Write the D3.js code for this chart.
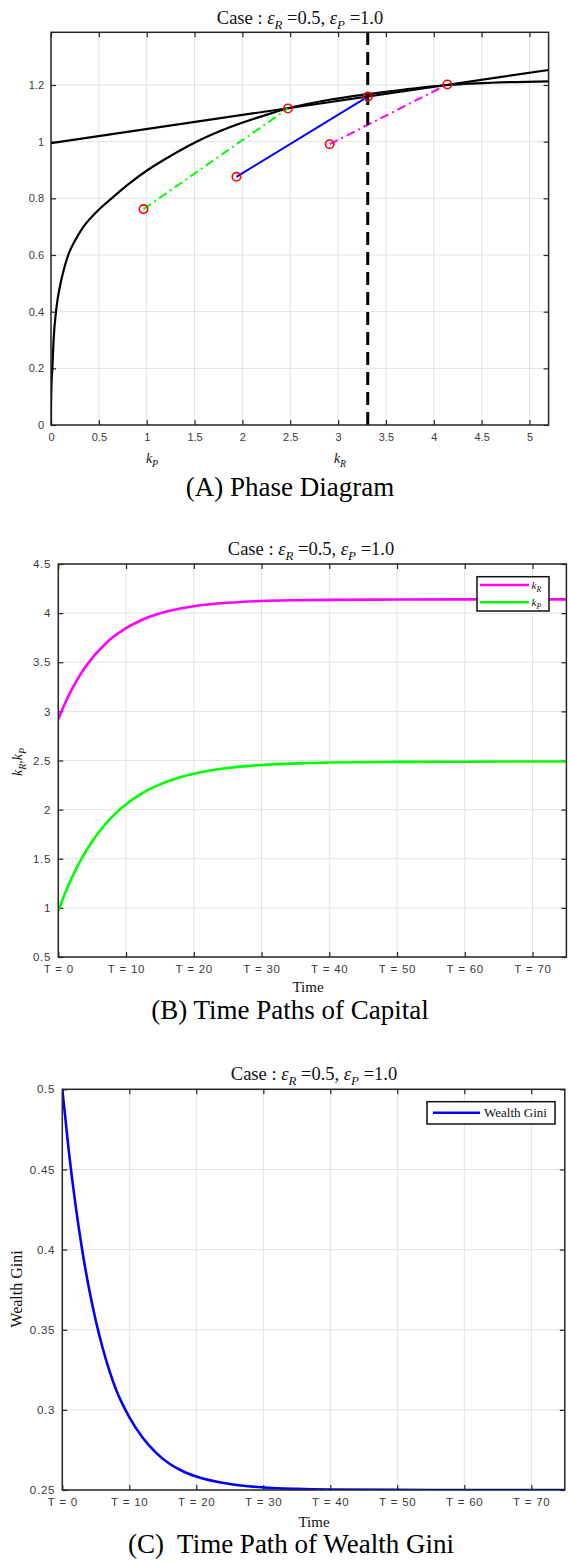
<!DOCTYPE html>
<html><head><meta charset="utf-8">
<script src="https://cdn.jsdelivr.net/npm/d3@7"></script>
<style>
body{margin:0;background:#fff}
svg{display:block}
.tick text{font-family:"Liberation Sans",Arial,sans-serif;fill:#3a3a3a}
</style>
</head><body>
<svg id="c" width="568" height="1564"></svg>
<script>
// ---------------- DATA ----------------
// Panel A: phase diagram
const phaseCurveK = [0, 0.0005, 0.002, 0.006, 0.014, 0.027, 0.052, 0.072, 0.1, 0.135, 0.18, 0.25, 0.34, 0.47, 0.634, 0.81, 1.01, 1.25, 1.52, 1.86, 2.3, 2.47, 2.95, 3.5, 4.14, 4.6, 5.2];
const phaseCurveY = [0, 0.05, 0.1, 0.15, 0.2, 0.3, 0.4, 0.45, 0.5, 0.55, 0.6, 0.65, 0.7, 0.75, 0.8, 0.85, 0.9, 0.95, 1.0, 1.05, 1.1, 1.117, 1.15, 1.176, 1.2, 1.208, 1.213];
const phaseLineK = [0, 5.2];
const phaseLineY = [0.995, 1.253];
const greenPathK = [0.967, 2.476];
const greenPathY = [0.762, 1.117];
const bluePathK = [1.938, 3.311];
const bluePathY = [0.876, 1.159];
const magentaPathK = [2.912, 4.142];
const magentaPathY = [0.991, 1.202];
const kRstar = 3.31;
const phaseXTicks = [0, 0.5, 1, 1.5, 2, 2.5, 3, 3.5, 4, 4.5, 5];
const phaseYTicks = [0, 0.2, 0.4, 0.6, 0.8, 1, 1.2];

// Panels B and C: time paths
const timeT   = [0, 1, 2, 3, 4, 5, 6, 7, 8, 10, 12, 14, 16, 18, 20, 25, 30, 35, 40, 50, 60, 70, 75];
const kRpath  = [2.92, 3.082, 3.224, 3.346, 3.451, 3.542, 3.62, 3.691, 3.751, 3.847, 3.92, 3.975, 4.016, 4.047, 4.07, 4.105, 4.123, 4.131, 4.135, 4.138, 4.14, 4.14, 4.14];
const kPpath  = [0.97, 1.149, 1.306, 1.445, 1.568, 1.676, 1.772, 1.856, 1.931, 2.055, 2.151, 2.226, 2.284, 2.33, 2.365, 2.423, 2.454, 2.471, 2.48, 2.486, 2.488, 2.49, 2.49];
const giniPath = [0.5, 0.4604, 0.4271, 0.399, 0.3754, 0.3556, 0.3389, 0.3248, 0.3129, 0.2955, 0.2826, 0.2732, 0.2664, 0.2617, 0.2584, 0.2537, 0.2516, 0.2507, 0.2503, 0.2501, 0.25, 0.25, 0.25];
const timeTicks = [0, 10, 20, 30, 40, 50, 60, 70];
const timeTickLabels = ["T = 0", "T = 10", "T = 20", "T = 30", "T = 40", "T = 50", "T = 60", "T = 70"];
const capYTicks = [0.5, 1, 1.5, 2, 2.5, 3, 3.5, 4, 4.5];
const giniYTicks = [0.25, 0.3, 0.35, 0.4, 0.45, 0.5];

const titleParts = [{t:"Case : "},{t:"ε",i:1},{t:"R",i:1,sub:1},{t:" =0.5, "},{t:"ε",i:1},{t:"P",i:1,sub:1},{t:" =1.0"}];

// ---------------- HELPERS ----------------
const svg = d3.select("#c");
const SERIF = "'Liberation Serif','Times New Roman',serif";
const GRID = "#e3e3e3", AX = "#262626";

function mathText(g, x, y, size, parts, anchor, rotate) {
  const t = g.append("text").attr("x", x).attr("y", y)
    .attr("text-anchor", anchor || "middle")
    .style("font-family", SERIF).style("font-size", size + "px").attr("fill", "#111");
  if (rotate) t.attr("transform", `rotate(${rotate},${x},${y})`);
  let shifted = false;
  parts.forEach(p => {
    const s = t.append("tspan").text(p.t);
    if (p.i) s.style("font-style", "italic");
    if (p.sub) {
      s.style("font-size", (size * 0.7) + "px");
      if (!shifted) { s.attr("dy", size * 0.28); shifted = true; }
    } else if (shifted) { s.attr("dy", -size * 0.28); shifted = false; }
  });
  return t;
}

function frame(id, x, y, xTicks, yTicks, xFmt, yFmt, fs, ls) {
  const [x0, x1] = x.range(), [y0, y1] = y.range(); // y0 bottom, y1 top
  const g = svg.append("g");
  g.append("g").selectAll("line").data(xTicks).join("line")
    .attr("x1", d => x(d)).attr("x2", d => x(d)).attr("y1", y0).attr("y2", y1)
    .attr("stroke", GRID).attr("stroke-width", 1);
  g.append("g").selectAll("line").data(yTicks).join("line")
    .attr("y1", d => y(d)).attr("y2", d => y(d)).attr("x1", x0).attr("x2", x1)
    .attr("stroke", GRID).attr("stroke-width", 1);
  const axB = g.append("g").attr("transform", `translate(0,${y0})`)
    .call(d3.axisBottom(x).tickValues(xTicks).tickFormat(xFmt).tickSizeInner(-5).tickSizeOuter(0).tickPadding(8));
  const axT = g.append("g").attr("transform", `translate(0,${y1})`)
    .call(d3.axisTop(x).tickValues(xTicks).tickFormat("").tickSizeInner(-5).tickSizeOuter(0));
  const axL = g.append("g").attr("transform", `translate(${x0},0)`)
    .call(d3.axisLeft(y).tickValues(yTicks).tickFormat(yFmt).tickSizeInner(-5).tickSizeOuter(0).tickPadding(7));
  const axR = g.append("g").attr("transform", `translate(${x1},0)`)
    .call(d3.axisRight(y).tickValues(yTicks).tickFormat("").tickSizeInner(-5).tickSizeOuter(0));
  [axB, axT, axL, axR].forEach(a => {
    a.select(".domain").remove();
    a.selectAll(".tick line").attr("stroke", AX).attr("stroke-width", 1.2);
    a.selectAll(".tick text").style("font-size", fs + "px").style("letter-spacing", (ls||0) + "px");
  });
  const plot = svg.append("g");
  svg.append("defs").append("clipPath").attr("id", id).append("rect")
    .attr("x", x0).attr("y", y1).attr("width", x1 - x0).attr("height", y0 - y1);
  plot.attr("clip-path", `url(#${id})`);
  const top = svg.append("g");
  top.append("rect").attr("x", x0).attr("y", y1).attr("width", x1 - x0).attr("height", y0 - y1)
    .attr("fill", "none").attr("stroke", AX).attr("stroke-width", 1.5);
  return {plot, top, axB, axL};
}

// ---------------- PANEL A ----------------
{
  const x = d3.scaleLinear().domain([0, 5.2]).range([51, 548.6]);
  const y = d3.scaleLinear().domain([0, 1.386]).range([425, 32.3]);
  const f = frame("clipA", x, y, phaseXTicks, phaseYTicks, d3.format("~g"), d3.format("~g"), 11);
  const p = f.plot;
  const line = d3.line().x(d => x(d[0])).y(d => y(d[1]));
  p.append("path").datum(phaseCurveK.map((k, i) => [k, phaseCurveY[i]]))
    .attr("d", line.curve(d3.curveMonotoneX)).attr("fill", "none").attr("stroke", "#000").attr("stroke-width", 2.2);
  p.append("path").datum(phaseLineK.map((k, i) => [k, phaseLineY[i]]))
    .attr("d", d3.line().x(d => x(d[0])).y(d => y(d[1]))).attr("fill", "none").attr("stroke", "#000").attr("stroke-width", 2.2);
  const paths = [
    {k: greenPathK, v: greenPathY, c: "#00ff00", dash: "9,4,2,4"},
    {k: bluePathK, v: bluePathY, c: "#0000ff", dash: null},
    {k: magentaPathK, v: magentaPathY, c: "#ff00ff", dash: "9,4,2,4"}
  ];
  const sl = d3.line().x(d => x(d[0])).y(d => y(d[1]));
  paths.forEach(P => {
    const pa = p.append("path").datum(P.k.map((k, i) => [k, P.v[i]])).attr("d", sl)
      .attr("fill", "none").attr("stroke", P.c).attr("stroke-width", 2);
    if (P.dash) pa.attr("stroke-dasharray", P.dash);
  });
  p.append("line").attr("x1", x(kRstar)).attr("x2", x(kRstar)).attr("y1", y(0)).attr("y2", y(1.386))
    .attr("stroke", "#000").attr("stroke-width", 3).attr("stroke-dasharray", "13,7");
  paths.forEach(P => {
    P.k.forEach((k, i) => {
      p.append("circle").attr("cx", x(k)).attr("cy", y(P.v[i])).attr("r", 4.2)
        .attr("fill", "none").attr("stroke", "#ff0000").attr("stroke-width", 1.6);
    });
  });
  mathText(svg, 300, 24, 18.5, titleParts);
  mathText(svg, 152, 463, 14, [{t:"k",i:1},{t:"P",i:1,sub:1}]);
  mathText(svg, 340, 463, 14, [{t:"k",i:1},{t:"R",i:1,sub:1}]);
  svg.append("text").attr("x", 290).attr("y", 496).attr("text-anchor", "middle")
    .style("font-family", SERIF).style("font-size", "27px").text("(A) Phase Diagram");
}

// ---------------- PANEL B ----------------
{
  const x = d3.scaleLinear().domain([0, 75]).range([58.3, 566.4]);
  const y = d3.scaleLinear().domain([0.5, 4.5]).range([957, 564]);
  const f = frame("clipB", x, y, timeTicks, capYTicks, (d, i) => timeTickLabels[i], d3.format("~g"), 11.5, 0.8);
  const p = f.plot;
  const line = d3.line().x(d => x(d[0])).y(d => y(d[1])).curve(d3.curveMonotoneX);
  p.append("path").datum(timeT.map((t, i) => [t, kRpath[i]])).attr("d", line)
    .attr("fill", "none").attr("stroke", "#ff00ff").attr("stroke-width", 2.6);
  p.append("path").datum(timeT.map((t, i) => [t, kPpath[i]])).attr("d", line)
    .attr("fill", "none").attr("stroke", "#00ff00").attr("stroke-width", 2.6);
  const lg = f.top.append("g");
  lg.append("rect").attr("x", 477).attr("y", 576.7).attr("width", 72).attr("height", 34.3)
    .attr("fill", "#fff").attr("stroke", "#111").attr("stroke-width", 1.5);
  lg.append("line").attr("x1", 480).attr("x2", 529).attr("y1", 585).attr("y2", 585).attr("stroke", "#ff00ff").attr("stroke-width", 2.6);
  lg.append("line").attr("x1", 480).attr("x2", 529).attr("y1", 602.3).attr("y2", 602.3).attr("stroke", "#00ff00").attr("stroke-width", 2.6);
  mathText(lg, 531.5, 588.5, 11, [{t:"k",i:1},{t:"R",i:1,sub:1}], "start");
  mathText(lg, 531.5, 605.5, 11, [{t:"k",i:1},{t:"P",i:1,sub:1}], "start");
  mathText(svg, 311, 555, 18.5, titleParts);
  mathText(svg, 308, 992, 15, [{t:"Time"}]);
  mathText(svg, 22, 762, 14, [{t:"k",i:1},{t:"R",i:1,sub:1},{t:","},{t:"k",i:1},{t:"P",i:1,sub:1}], "middle", -90);
  svg.append("text").attr("x", 290).attr("y", 1019).attr("text-anchor", "middle")
    .style("font-family", SERIF).style("font-size", "27px").text("(B) Time Paths of Capital");
}

// ---------------- PANEL C ----------------
{
  const x = d3.scaleLinear().domain([0, 75]).range([62.3, 564.8]);
  const y = d3.scaleLinear().domain([0.25, 0.5]).range([1490, 1089.3]);
  const f = frame("clipC", x, y, timeTicks, giniYTicks, (d, i) => timeTickLabels[i], d3.format("~g"), 11.5, 0.8);
  const p = f.plot;
  const line = d3.line().x(d => x(d[0])).y(d => y(d[1])).curve(d3.curveMonotoneX);
  p.append("path").datum(timeT.map((t, i) => [t, giniPath[i]])).attr("d", line)
    .attr("fill", "none").attr("stroke", "#0000ff").attr("stroke-width", 2.6);
  const lg = f.top.append("g");
  lg.append("rect").attr("x", 427).attr("y", 1101.7).attr("width", 128).attr("height", 22.3)
    .attr("fill", "#fff").attr("stroke", "#111").attr("stroke-width", 1.5);
  lg.append("line").attr("x1", 433).attr("x2", 480).attr("y1", 1112.7).attr("y2", 1112.7).attr("stroke", "#0000ff").attr("stroke-width", 2.6);
  mathText(lg, 484, 1117, 13, [{t:"Wealth Gini"}], "start");
  mathText(svg, 314, 1080, 18.5, titleParts);
  mathText(svg, 314, 1527, 15, [{t:"Time"}]);
  mathText(svg, 22, 1289, 16, [{t:"Wealth Gini"}], "middle", -90);
  svg.append("text").attr("x", 291).attr("y", 1553).attr("text-anchor", "middle")
    .style("font-family", SERIF).style("font-size", "27px").attr("xml:space", "preserve").text("(C)  Time Path of Wealth Gini");
}
</script>
</body></html>
